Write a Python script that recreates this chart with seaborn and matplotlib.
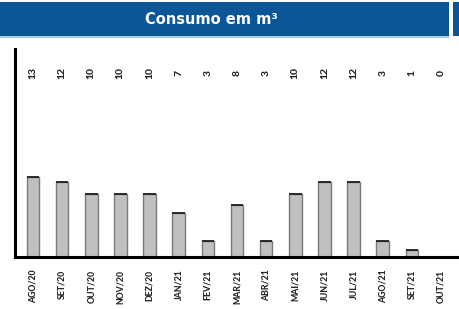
import matplotlib
matplotlib.use("Agg")
import matplotlib.pyplot as plt
from matplotlib.patches import Rectangle
import pandas as pd
import seaborn as sns

# Monthly consumption (m3)
months = ["AGO/20", "SET/20", "OUT/20", "NOV/20", "DEZ/20", "JAN/21", "FEV/21", "MAR/21",
          "ABR/21", "MAI/21", "JUN/21", "JUL/21", "AGO/21", "SET/21", "OUT/21"]
consumo = [12.8, 12.0, 10.1, 10.1, 10.1, 7.0, 2.5, 8.3, 2.5, 10.1, 12.0, 12.0, 2.5, 1.2, 0.05]
rotulos = [13, 12, 10, 10, 10, 7, 3, 8, 3, 10, 12, 12, 3, 1, 0]

df = pd.DataFrame({"mes": months, "consumo": consumo})

sns.set_style("white")
plt.rcParams["font.family"] = ["Lato", "DejaVu Sans"]

fig = plt.figure(figsize=(4.6, 3.09), dpi=100)

# Blue title banner
fig.patches.append(Rectangle((0, 1 - 36 / 309), 449 / 460, 34 / 309, transform=fig.transFigure,
                             facecolor="#0b5697", edgecolor="none"))
fig.patches.append(Rectangle((0, 1 - 38 / 309), 449 / 460, 2 / 309, transform=fig.transFigure,
                             facecolor="#a9cde9", edgecolor="none"))
fig.patches.append(Rectangle((453 / 460, 1 - 36 / 309), 7 / 460, 34 / 309, transform=fig.transFigure,
                             facecolor="#0b5697", edgecolor="none"))
fig.text(211 / 460, 1 - 20 / 309, "Consumo em m³", color="white", fontsize=10.5,
         fontweight="bold", family="DejaVu Sans", ha="center", va="center")

ax = fig.add_axes([15 / 460, 1 - 257 / 309, 445 / 460, 208 / 309])
width = 0.43
sns.barplot(data=df, x="mes", y="consumo", color="#c0c0c0", saturation=1, width=width,
            edgecolor="#7a7a7a", linewidth=1, ax=ax)
# dark top edge of each bar
ax.hlines(consumo, [i - width / 2 for i in range(len(months))],
          [i + width / 2 for i in range(len(months))], color="#1e1e1e", linewidth=1.3)

for i, r in enumerate(rotulos):
    ax.text(i, 0.885, str(r), transform=ax.get_xaxis_transform(), rotation=90,
            ha="center", va="center", fontsize=7.5, fontweight=900)

ax.set_xlim(-0.617, 14.65)
ax.set_ylim(0, 33.4)
ax.set_xlabel("")
ax.set_ylabel("")
ax.set_yticks([])
ax.set_xticks(range(len(months)), months, rotation=90, fontsize=6.3, fontweight=900)
ax.tick_params(axis="x", length=0, pad=9)
for s in ["top", "right"]:
    ax.spines[s].set_visible(False)
for s in ["left", "bottom"]:
    ax.spines[s].set_color("black")
    ax.spines[s].set_linewidth(2.2)

fig.savefig("out.png", dpi=100)
